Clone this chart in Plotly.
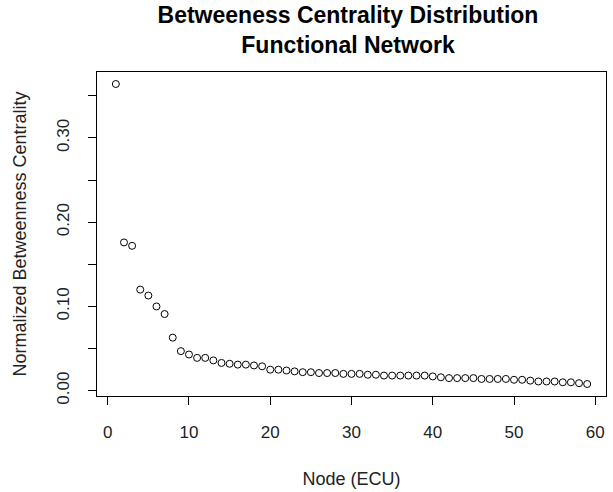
import plotly.graph_objects as go

nodes = list(range(1, 60))
centrality = [
    0.364, 0.176, 0.172, 0.120, 0.113, 0.100, 0.091, 0.063, 0.047, 0.043,
    0.039, 0.039, 0.036, 0.033, 0.032, 0.031, 0.031, 0.030, 0.029, 0.025,
    0.025, 0.024, 0.023, 0.022, 0.022, 0.021, 0.021, 0.021, 0.020, 0.020,
    0.020, 0.019, 0.019, 0.018, 0.018, 0.018, 0.018, 0.018, 0.018, 0.017,
    0.016, 0.015, 0.015, 0.015, 0.015, 0.014, 0.014, 0.014, 0.014, 0.013,
    0.013, 0.012, 0.011, 0.011, 0.011, 0.010, 0.010, 0.009, 0.008,
]
x_ticks = [0, 10, 20, 30, 40, 50, 60]
y_ticks = [0.00, 0.05, 0.10, 0.15, 0.20, 0.25, 0.30, 0.35]
y_ticklabels = ["0.00", "", "0.10", "", "0.20", "", "0.30", ""]

title_text = "<b>Betweeness Centrality Distribution</b><br><b>Functional Network</b>"
x_title = "Node (ECU)"
y_title = "Normalized Betweenness Centrality"

# R-style 4% axis expansion
xr = max(nodes) - min(nodes)
x_range = [min(nodes) - 0.04 * xr, max(nodes) + 0.04 * xr]
yr = max(centrality) - min(centrality)
y_range = [min(centrality) - 0.04 * yr, max(centrality) + 0.04 * yr]

FONT = "Liberation Sans, Arial, sans-serif"

fig = go.Figure()
fig.add_trace(go.Scatter(
    x=nodes, y=centrality, mode="markers",
    marker=dict(symbol="circle-open", size=7, color="black", line=dict(width=1, color="black")),
    showlegend=False,
))

fig.update_layout(
    width=613, height=492,
    margin=dict(l=97, r=7, t=72, b=96),
    paper_bgcolor="white", plot_bgcolor="white",
    font=dict(family=FONT, color="black", size=17),
    title=dict(
        text=title_text, x=348 / 613, xanchor="center",
        y=1 - 23 / 492, yanchor="middle", yref="container",
        font=dict(family=FONT, size=23, color="black"),
    ),
)
fig.update_xaxes(
    range=x_range, tickvals=x_ticks, ticks="outside", ticklen=8, tickwidth=1,
    tickcolor="black", showline=True, linecolor="black", linewidth=1, mirror=True,
    showgrid=False, zeroline=False, ticklabelstandoff=13,
    tickfont=dict(size=17, family=FONT, color="#222"),
    title=dict(text=x_title, standoff=30, font=dict(size=18, family=FONT, color="#222")),
)
fig.update_yaxes(
    range=y_range, tickvals=y_ticks, ticktext=y_ticklabels, ticks="outside", ticklen=8,
    tickwidth=1, tickcolor="black", showline=True, linecolor="black", linewidth=1,
    mirror=True, showgrid=False, zeroline=False, tickangle=-90, ticklabelstandoff=12,
    tickfont=dict(size=17, family=FONT, color="#222"),
    title=dict(text=y_title, standoff=22, font=dict(size=18, family=FONT, color="#222")),
)

fig.write_html("out.html")
